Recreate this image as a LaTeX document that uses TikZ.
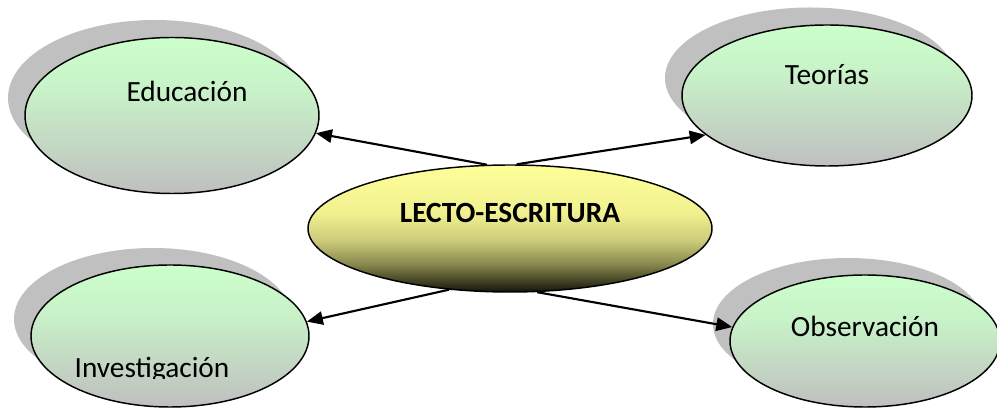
\documentclass[tikz,border=0pt]{standalone}
\usepackage{fontspec}
\setmainfont{Carlito}
\usetikzlibrary{shapes.geometric,arrows.meta}
\definecolor{shadowgrey}{HTML}{C0C0C0}
\definecolor{gA}{HTML}{CCFFCC}
\definecolor{gB}{HTML}{C8F2C8}
\definecolor{gC}{HTML}{BFBFBF}
\definecolor{yA}{HTML}{FFFF99}
\definecolor{yB}{HTML}{F0F090}
\definecolor{yC}{HTML}{CACA7A}
\definecolor{yD}{HTML}{88884E}
\definecolor{yE}{HTML}{141408}
\pgfdeclareverticalshading{greenshade}{100bp}{color(0bp)=(gC); color(25bp)=(gC); color(58bp)=(gB); color(75bp)=(gA); color(100bp)=(gA)}
\pgfdeclareverticalshading{coreshade}{100bp}{color(0bp)=(yE); color(25bp)=(yE); color(36bp)=(yD); color(45bp)=(yC); color(56bp)=(yB); color(75bp)=(yA); color(100bp)=(yA)}
\tikzset{
  bubble/.style={ellipse, draw=black, line width=1.1pt, inner sep=0pt,
    shading=greenshade},
  bubshadow/.style={ellipse, fill=shadowgrey, draw=none, inner sep=0pt},
  core/.style={ellipse, draw=black, line width=1.1pt, inner sep=0pt,
    shading=coreshade},
  txt/.style={anchor=base, inner sep=0pt, font=\fontsize{22pt}{26pt}\selectfont},
  link/.style={line width=1.6pt, -{Triangle[length=12pt,width=10pt]}}
}
\begin{document}
\begin{tikzpicture}[x=0.75pt,y=-0.75pt]
\useasboundingbox (0,0) rectangle (997,409);
% shadows
\node[bubshadow, minimum width=220.5pt, minimum height=117pt] (eduS) at (155,98) {};
\node[bubshadow, minimum width=217.5pt, minimum height=105.75pt] (teoS) at (810,78) {};
\node[bubshadow, minimum width=208.5pt, minimum height=106.5pt] (invS) at (153,319) {};
\node[bubshadow, minimum width=202.5pt, minimum height=99pt] (obsS) at (848,324) {};
% ellipses
\node[bubble, minimum width=220.5pt, minimum height=117pt] (edu) at (172,115.5) {};
\node[bubble, minimum width=217.5pt, minimum height=105.75pt] (teo) at (827,95.5) {};
\node[bubble, minimum width=208.5pt, minimum height=106.5pt] (inv) at (170,336) {};
\node[bubble, minimum width=202.5pt, minimum height=99pt] (obs) at (865,341) {};
\node[core, minimum width=303pt, minimum height=95.25pt] (lecto) at (510,228.5) {};
% texts
\node[txt] (eduT) at (187,102) {Educación};
\node[txt] (teoT) at (827,85) {Teorías};
\node[txt] (obsT) at (865,337) {Observación};
\node[txt, font=\fontsize{22pt}{26pt}\selectfont\bfseries] (lectoT) at (510,223) {LECTO-ESCRITURA};
\begin{scope}
\clip (0,0) rectangle (997,379);
\node[txt] (invT) at (152,378) {Investigación};
\end{scope}
% connectors
\draw[link] (lecto.110) -- (edu.353);
\draw[link] (lecto.84) -- (teo.198);
\draw[link] (lecto.225) -- (inv.6);
\draw[link] (lecto.293) -- (obs.174);
\end{tikzpicture}
\end{document}
